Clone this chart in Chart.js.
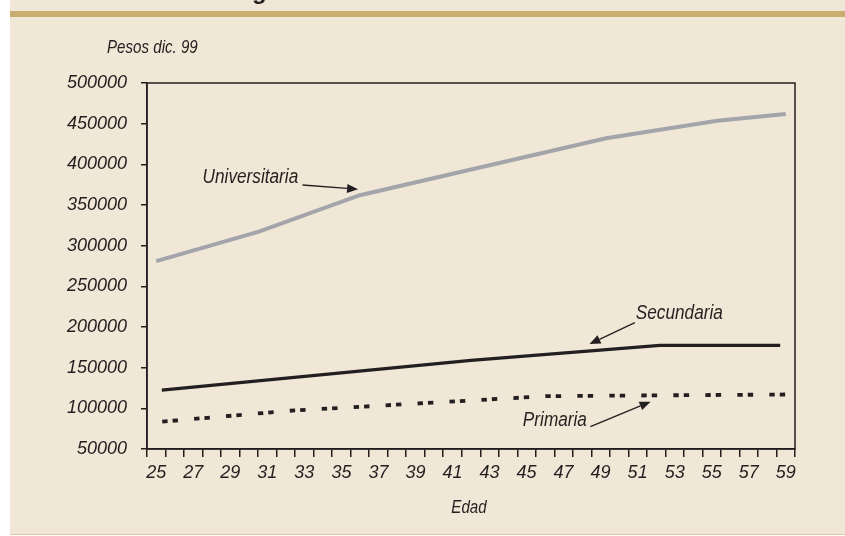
<!DOCTYPE html>
<html>
<head>
<meta charset="utf-8">
<script src="https://cdn.jsdelivr.net/npm/chart.js@4.4.1/dist/chart.umd.min.js"></script>
<style>
  html, body { margin: 0; padding: 0; background: #ffffff; }
  #wrap { width: 845px; height: 536px; position: relative; }
</style>
</head>
<body>
<div id="wrap"><canvas id="c" width="845" height="536"></canvas></div>
<script>
// Age categories along the bottom axis (one slot per year)
const edades = [25,26,27,28,29,30,31,32,33,34,35,36,37,38,39,40,41,42,43,44,45,46,47,48,49,50,51,52,53,54,55,56,57,58,59];

// Income profiles (pesos of Dec. 1999) by education level
const edadUniversitaria = [25, 30.5, 36, 49.3, 55.3, 59];
const ingresoUniversitaria = [281000, 317000, 362000, 432000, 453500, 462000];

const edadSecundaria = [25.3, 42, 52.2, 58.7];
const ingresoSecundaria = [122500, 159000, 177500, 177500];

const edadPrimaria = [25, 32.2, 46.1, 59];
const ingresoPrimaria = [83000, 97000, 115000, 117000];

// Vertical axis range
const ingresoMin = 50000;
const ingresoMax = 500000;
const ingresoPaso = 50000;

// Callout labels: [text, label age, label value, arrow start age, start value, arrow tip age, tip value]
const rotulos = [
  ['Universitaria', 27.5, 384000, 32.9, 374600, 35.9, 369300],
  ['Secundaria', 50.9, 217000, 50.85, 205300, 48.4, 179100],
  ['Primaria', 44.8, 85700, 48.45, 77400, 51.7, 108200]
];

const tinta = '#231f20';
const fuente = "'Liberation Sans', Arial, Helvetica, sans-serif";
const estrecho = 0.84; // narrow italic look: horizontal squeeze of the text

const pares = (xs, ys) => xs.map((x, i) => ({ x: x, y: ys[i] }));

// Draws text squeezed horizontally through fillText's maxWidth
function textoEstrecho(ctx, txt, x, y) {
  const w = ctx.measureText(txt).width * estrecho;
  ctx.fillText(txt, x, y, w);
}

const fondo = {
  id: 'fondo',
  beforeDraw(chart) {
    const ctx = chart.ctx;
    ctx.save();
    ctx.fillStyle = '#ffffff';
    ctx.fillRect(0, 0, chart.width, chart.height);
    ctx.fillStyle = '#f0e7d6';
    ctx.fillRect(10, 0, chart.width - 10, 534);
    ctx.fillStyle = '#c8ad6f';
    ctx.fillRect(10, 11, chart.width - 10, 6);
    ctx.fillStyle = '#dcc9a2';
    ctx.fillRect(10, 534, chart.width - 10, 1);
    // tail of the heading above the rule
    ctx.fillStyle = tinta;
    ctx.font = "bold 24px 'Liberation Sans', Arial, sans-serif";
    ctx.textBaseline = 'alphabetic';
    ctx.textAlign = 'left';
    ctx.fillText('g', 252, -1.5);
    ctx.restore();
  }
};

const marco = {
  id: 'marco',
  afterDraw(chart) {
    const a = chart.chartArea;
    const ctx = chart.ctx;
    ctx.save();
    ctx.strokeStyle = tinta;
    ctx.lineWidth = 1.5;
    ctx.strokeRect(a.left, a.top, a.right - a.left, a.bottom - a.top);

    ctx.fillStyle = tinta;
    ctx.font = 'italic 18px ' + fuente;
    ctx.textBaseline = 'middle';
    ctx.textAlign = 'left';
    textoEstrecho(ctx, 'Pesos dic. 99', 107, 48);
    ctx.textAlign = 'center';
    textoEstrecho(ctx, 'Edad', (a.left + a.right) / 2 - 2, 508);
    ctx.restore();
  }
};

const flechas = {
  id: 'flechas',
  afterDatasetsDraw(chart) {
    const sx = chart.scales.xe, sy = chart.scales.y;
    const ctx = chart.ctx;
    ctx.save();
    ctx.fillStyle = tinta;
    ctx.strokeStyle = tinta;
    ctx.font = 'italic 20.5px ' + fuente;
    ctx.textBaseline = 'middle';
    ctx.textAlign = 'left';
    rotulos.forEach(r => {
      textoEstrecho(ctx, r[0], sx.getPixelForValue(r[1]), sy.getPixelForValue(r[2]));
      const x0 = sx.getPixelForValue(r[3]), y0 = sy.getPixelForValue(r[4]);
      const x1 = sx.getPixelForValue(r[5]), y1 = sy.getPixelForValue(r[6]);
      const ang = Math.atan2(y1 - y0, x1 - x0);
      const largo = 11, ancho = 4.5;
      const bx = x1 - largo * Math.cos(ang), by = y1 - largo * Math.sin(ang);
      ctx.lineWidth = 1.3;
      ctx.beginPath();
      ctx.moveTo(x0, y0);
      ctx.lineTo(bx, by);
      ctx.stroke();
      ctx.beginPath();
      ctx.moveTo(x1, y1);
      ctx.lineTo(bx + ancho * Math.sin(ang), by - ancho * Math.cos(ang));
      ctx.lineTo(bx - ancho * Math.sin(ang), by + ancho * Math.cos(ang));
      ctx.closePath();
      ctx.fill();
    });
    ctx.restore();
  }
};

new Chart(document.getElementById('c'), {
  type: 'line',
  data: {
    labels: edades.map(String),
    datasets: [
      {
        label: 'Universitaria',
        data: pares(edadUniversitaria, ingresoUniversitaria),
        xAxisID: 'xe',
        borderColor: '#a3a5aa',
        borderWidth: 4,
        pointRadius: 0,
        tension: 0,
        fill: false
      },
      {
        label: 'Secundaria',
        data: pares(edadSecundaria, ingresoSecundaria),
        xAxisID: 'xe',
        borderColor: tinta,
        borderWidth: 3.2,
        pointRadius: 0,
        tension: 0,
        fill: false
      },
      {
        label: 'Primaria',
        data: pares(edadPrimaria, ingresoPrimaria),
        xAxisID: 'xe',
        borderColor: tinta,
        borderWidth: 3.8,
        borderDash: [5.4, 5, 5.4, 16.2],
        borderDashOffset: 26,
        borderCapStyle: 'butt',
        pointRadius: 0,
        tension: 0,
        fill: false
      }
    ]
  },
  options: {
    responsive: false,
    animation: false,
    devicePixelRatio: 1,
    layout: { padding: { left: 0, top: 83, right: 50, bottom: 47 } },
    plugins: { legend: { display: false }, tooltip: { enabled: false }, title: { display: false } },
    scales: {
      x: {
        type: 'category',
        position: 'bottom',
        offset: true,
        grid: { offset: true, drawOnChartArea: false, drawTicks: true, tickLength: 8, color: tinta, lineWidth: 1.5 },
        border: { display: true, color: tinta, width: 1.5 },
        ticks: {
          autoSkip: false,
          maxRotation: 0,
          padding: 5,
          color: tinta,
          font: { family: fuente, size: 18, style: 'italic' },
          callback: function (v, i) { return i % 2 === 0 ? this.getLabelForValue(v) : ''; }
        },
        afterFit: s => { s.height = 40; }
      },
      xe: {
        type: 'linear',
        display: false,
        min: 24.5,
        max: 59.5
      },
      y: {
        min: ingresoMin,
        max: ingresoMax,
        grid: { drawOnChartArea: false, drawTicks: true, tickLength: 6, color: tinta, lineWidth: 1.5 },
        border: { display: true, color: tinta, width: 1.5 },
        ticks: {
          stepSize: ingresoPaso,
          padding: 14,
          color: tinta,
          font: { family: fuente, size: 18, style: 'italic' },
          callback: v => String(v)
        },
        afterFit: s => { s.width = 147; }
      }
    }
  },
  plugins: [fondo, marco, flechas]
});
</script>
</body>
</html>
